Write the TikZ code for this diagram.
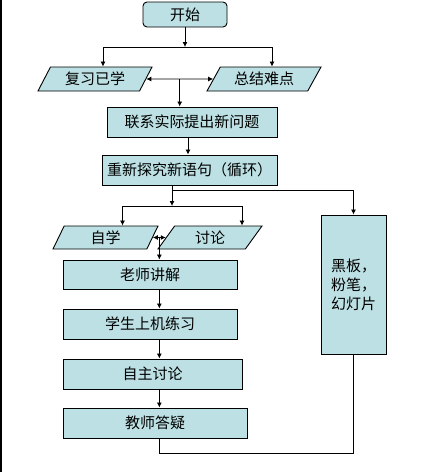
\documentclass[tikz,border=0pt]{standalone}
\usepackage{fontspec}
\setmainfont{Noto Sans CJK SC}
\usetikzlibrary{arrows.meta,shapes.geometric,calc}
\definecolor{boxfill}{RGB}{188,224,227}

\begin{document}
\begin{tikzpicture}[x=1pt,y=-1pt,
  box/.style={draw,fill=boxfill,line width=0.9pt,inner sep=1pt,font=\fontsize{15}{19}\selectfont},
  para/.style={box,trapezium,trapezium stretches body},
  arr/.style={-{Latex[length=5pt,width=5pt]},line width=0.8pt},
  dbl/.style={{Latex[length=5pt,width=5pt]}-{Latex[length=5pt,width=5pt]},line width=0.8pt}]
\useasboundingbox (0,0) rectangle (437,472);
\draw[line width=1.5pt] (0.75,0) -- (0.75,472);

\node[box,rounded corners=4pt,minimum width=84,minimum height=25] (start) at (185,14.5) {开始};

\node[para,trapezium left angle=52,trapezium right angle=128,minimum width=114,minimum height=24] (review) at (95,79) {复习已学};
\node[para,trapezium left angle=50,trapezium right angle=130,minimum width=114,minimum height=24] (summary) at (264,79) {总结难点};

\node[box,minimum width=170,minimum height=30] (link) at (192,122) {联系实际提出新问题};
\node[box,minimum width=175,minimum height=30] (explore) at (189.5,170) {重新探究新语句（循环）};

\node[para,trapezium left angle=55,trapezium right angle=125,minimum width=105,minimum height=23] (self) at (105.5,237.5) {自学};
\node[para,trapezium left angle=43,trapezium right angle=137,minimum width=104,minimum height=23] (discuss) at (210,237.5) {讨论};

\node[box,minimum width=174,minimum height=29] (teach) at (150,274.5) {老师讲解};
\node[box,minimum width=174,minimum height=30] (practice) at (150,324) {学生上机练习};
\node[box,minimum width=179,minimum height=30] (autodisc) at (152.5,374) {自主讨论};
\node[box,minimum width=184,minimum height=30] (answer) at (155,423) {教师答疑};

\node[box,minimum width=65,minimum height=139,align=left] (board) at (353.5,284.5) {黑板，\\粉笔，\\幻灯片};

% top part
\coordinate (b1) at (185,47);
\draw[arr] (start) -- (b1);
\draw[arr] (b1) -| ([xshift=8]review.north);
\draw[arr] (b1) -| ([xshift=8]summary.north);
\draw[dbl] (review.east) -- (summary.west);
\coordinate (m1) at ($(review.east)!.5!(summary.west)$);
\draw[arr] (m1) -- (m1 |- link.north);
\draw[arr] ([xshift=-4]link.south) -- ([xshift=-4]link.south |- explore.north);

% branches
\coordinate (b2) at (172,190);
\coordinate (b3) at (172,206);
\draw[line width=0.8pt] (b2 |- explore.south) -- (b2);
\draw[arr] (b2) -| (board.north);
\draw[arr] (b2) -- (b3);
\draw[arr] (b3) -| ([xshift=17]self.north);
\draw[arr] (b3) -| ([xshift=32]discuss.north);
\draw[dbl] (self.east) -- (discuss.west);
\coordinate (m2) at ($(self.east)!.5!(discuss.west)$);

% main column
\draw[arr] (m2) -- (m2 |- teach.north);
\draw[arr] (m2 |- teach.south) -- (m2 |- practice.north);
\draw[arr] (m2 |- practice.south) -- (m2 |- autodisc.north);
\draw[arr] (m2 |- autodisc.south) -- (m2 |- answer.north);
\draw[line width=0.8pt] (m2 |- answer.south) -- ++(0,15) -| (board.south);
\end{tikzpicture}
\end{document}
